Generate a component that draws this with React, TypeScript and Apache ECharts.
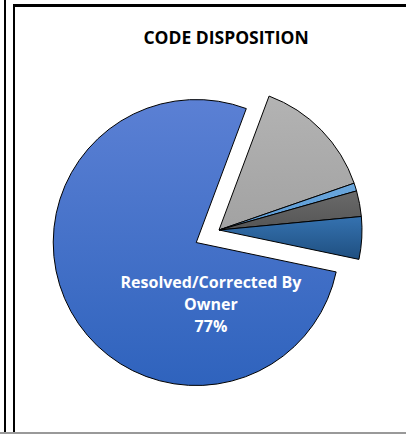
import React, { useEffect, useRef } from "react";
import * as echarts from "echarts";

const titleText = "CODE DISPOSITION";
const categories = [
  "Other",
  "Duplicate",
  "Not A Defect",
  "Deferred",
  "Resolved/Corrected By Owner",
];
const values = [14, 0.9, 2.9, 4.8, 77.4];
const sliceColors: [string, string][] = [
  ["#b3b3b3", "#a2a2a2"],
  ["#6aa6dc", "#5b9bd5"],
  ["#6a6a6a", "#555555"],
  ["#3572b0", "#1f4f80"],
  ["#5b80d4", "#2f63bd"],
];
const explodedIndex = 4;

export default function App() {
  const ref = useRef<HTMLDivElement>(null);
  useEffect(() => {
    document.body.style.margin = "0";
    if (!ref.current) return;
    const chart = echarts.init(ref.current, undefined, { renderer: "svg" });
    const data = categories.map((name, i) => ({
      name,
      value: values[i],
      selected: i === explodedIndex,
      itemStyle: {
        color: new echarts.graphic.LinearGradient(0, 0, 0, 1, [
          { offset: 0, color: sliceColors[i][0] },
          { offset: 1, color: sliceColors[i][1] },
        ]),
      },
      label: { show: i === explodedIndex },
    }));
    chart.setOption({
      animation: false,
      backgroundColor: "#ffffff",
      title: {
        text: titleText,
        left: 221,
        top: 23,
        textAlign: "center",
        textStyle: {
          fontFamily: "Open Sans",
          fontWeight: "bold",
          fontSize: 17.5,
          color: "#000000",
        },
      },
      graphic: [
        { type: "rect", shape: { x: 4, y: 0, width: 2, height: 434 }, style: { fill: "#000" } },
        { type: "rect", shape: { x: 13, y: 4, width: 2, height: 430 }, style: { fill: "#000" } },
        { type: "rect", shape: { x: 13, y: 4, width: 393, height: 3 }, style: { fill: "#000" } },
        { type: "rect", shape: { x: 0, y: 432, width: 406, height: 2 }, style: { fill: "#999" } },
      ],
      series: [
        {
          type: "pie",
          center: [219, 230],
          radius: [0, 143],
          startAngle: 69.5,
          clockwise: true,
          selectedMode: "single",
          selectedOffset: 26,
          percentPrecision: 0,
          silent: true,
          itemStyle: { borderColor: "#000000", borderWidth: 1 },
          label: {
            position: "inside",
            formatter: "{s| }\n{t|Resolved/Corrected By}\n{t|Owner}\n{t|{d}%}",
            fontFamily: "Open Sans",
            fontWeight: "bold",
            fontSize: 16,
            color: "#ffffff",
            align: "center",
            overflow: "none",
            padding: [0, 0, 0, 160],
            rich: {
              s: { lineHeight: 52, fontSize: 10 },
              t: {
                fontFamily: "Open Sans",
                fontWeight: "bold",
                fontSize: 16,
                lineHeight: 22,
                color: "#ffffff",
              },
            },
          },
          labelLine: { show: false },
          data,
        },
      ],
    });
    return () => chart.dispose();
  }, []);
  return <div ref={ref} style={{ width: 406, height: 434 }} />;
}
